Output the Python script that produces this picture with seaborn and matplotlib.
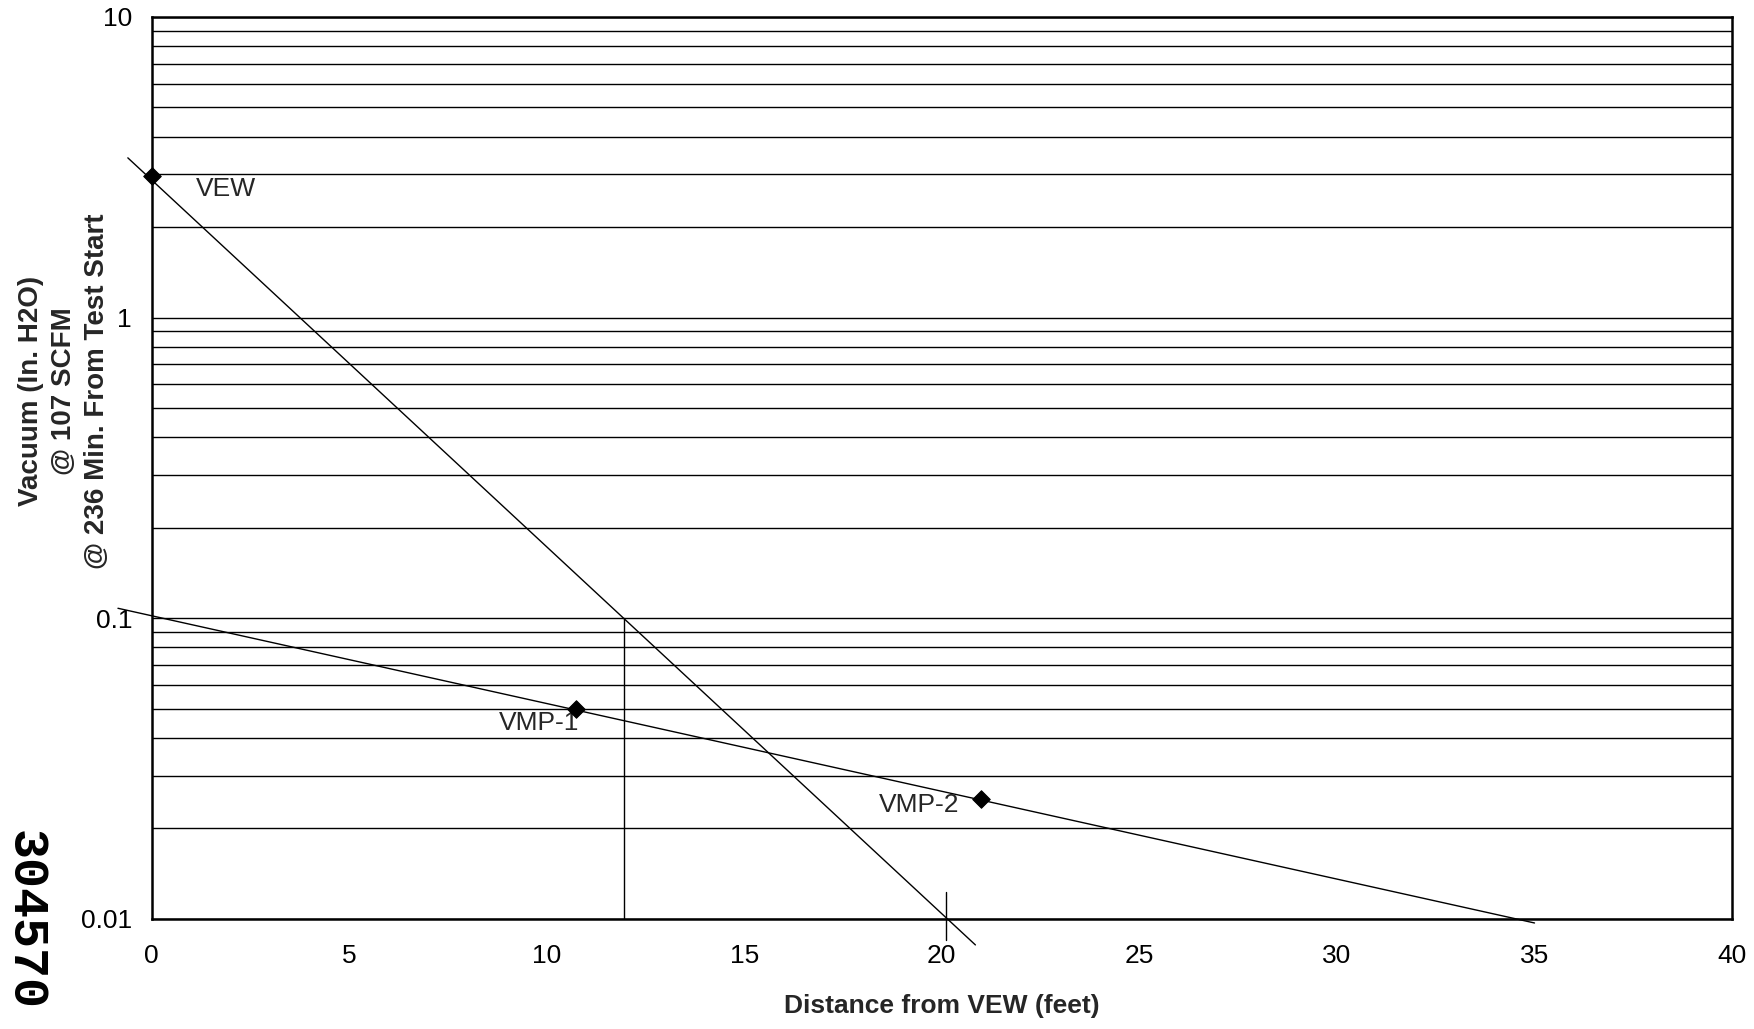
import matplotlib
matplotlib.use("Agg")
import matplotlib.pyplot as plt
from matplotlib.ticker import LogLocator, NullFormatter, FixedLocator, FixedFormatter
import seaborn as sns

# measured points
well_names = ["VEW", "VMP-1", "VMP-2"]
distance_ft = [0.0, 10.75, 21.0]
vacuum_inh2o = [2.95, 0.05, 0.025]

# hand-drawn trend lines (endpoints)
steep_x = [-0.6, 20.85]
steep_y = [3.4, 0.0082]
shallow_x = [-0.85, 35.0]
shallow_y = [0.108, 0.0097]

# radius-of-influence marker lines
roi_x = [11.95, 11.95]
roi_y = [0.1, 0.01]
roi2_x = [20.1, 20.1]
roi2_y = [0.0123, 0.0085]

x_ticks = [0, 5, 10, 15, 20, 25, 30, 35, 40]
y_ticks = [0.01, 0.1, 1, 10]
y_tick_labels = ["0.01", "0.1", "1", "10"]

sns.set_style("white")
plt.rcParams['font.family'] = ['Liberation Sans', 'DejaVu Sans']

fig = plt.figure(figsize=(17.54, 10.29), dpi=100)
ax = fig.add_axes([0.0864, 0.1069, 0.9011, 0.8766])

# lines (estimator=None so seaborn draws them as given)
sns.lineplot(x=steep_x, y=steep_y, ax=ax, color="black", lw=1.0, estimator=None,
             clip_on=False, sort=False)
sns.lineplot(x=shallow_x, y=shallow_y, ax=ax, color="black", lw=1.0, estimator=None,
             clip_on=False, sort=False)
sns.lineplot(x=roi_x, y=roi_y, ax=ax, color="black", lw=1.0, estimator=None, sort=False)
sns.lineplot(x=roi2_x, y=roi2_y, ax=ax, color="black", lw=1.0, estimator=None,
             clip_on=False, sort=False)

# points
sns.scatterplot(x=distance_ft, y=vacuum_inh2o, ax=ax, marker="D", color="black",
                s=80, edgecolor="black", zorder=5, clip_on=False)

ax.set_yscale("log")
ax.set_xlim(0, 40)
ax.set_ylim(0.01, 10)

# label offsets (points) for each well
offsets = [(32, -9), (2, -10), (-16, -4)]
aligns = ["left", "right", "right"]
for name, x, y, off, ha in zip(well_names, distance_ft, vacuum_inh2o, offsets, aligns):
    ax.annotate(name, (x, y), xytext=off, textcoords="offset points",
                ha=ha, va="center", fontsize=19)

ax.xaxis.set_major_locator(FixedLocator(x_ticks))
ax.yaxis.set_major_locator(FixedLocator(y_ticks))
ax.yaxis.set_major_formatter(FixedFormatter(y_tick_labels))
ax.yaxis.set_minor_locator(LogLocator(base=10, subs=range(2, 10)))
ax.yaxis.set_minor_formatter(NullFormatter())

ax.grid(True, axis="y", which="both", color="black", lw=1.0)
ax.grid(False, axis="x")

ax.tick_params(axis="x", which="major", direction="inout", length=12, width=1.2,
               pad=12, labelsize=19, colors="black")
ax.tick_params(axis="y", which="major", direction="out", length=6, width=1.2,
               pad=8, labelsize=19, colors="black")
ax.tick_params(axis="y", which="minor", length=0)

for sp in ax.spines.values():
    sp.set_color("black")
    sp.set_linewidth(1.8)
    sp.set_visible(True)

ax.set_xlabel("Distance from VEW (feet)", fontsize=19, fontweight="bold", labelpad=19)
fig.text(64 / 1754, 1 - 391 / 1029,
         "Vacuum (In. H2O)\n@ 107 SCFM\n@ 236 Min. From Test Start",
         rotation=90, ha="center", va="center", multialignment="center",
         fontsize=20, fontweight="bold", linespacing=1.35)

# document stamp in the margin
fig.text(25 / 1754, 1 - 920 / 1029, "304570", rotation=-90, ha="center", va="center",
         fontsize=36, fontweight="bold", family=["Liberation Mono", "DejaVu Sans Mono"],
         color="black")

fig.savefig("out.png", dpi=100, facecolor="white")
